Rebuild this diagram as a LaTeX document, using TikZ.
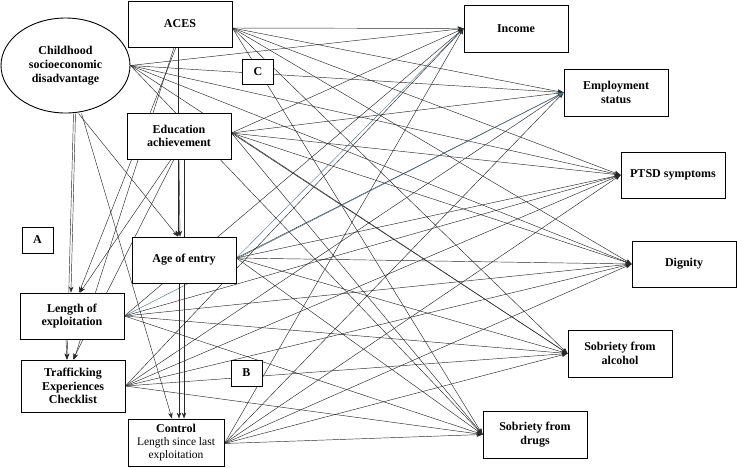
\documentclass[tikz,border=0pt]{standalone}
\usepackage{fontspec}
\setmainfont{Liberation Serif}
\usetikzlibrary{shapes.geometric,arrows.meta,backgrounds}
\definecolor{lnk}{RGB}{40,40,40}
\definecolor{blu}{RGB}{70,120,150}
\begin{document}
\begin{tikzpicture}[x=1pt,y=-1pt,
  box/.style={draw, line width=0.9pt, fill=white, minimum width=104pt, minimum height=46pt,
    inner sep=1pt, align=center, font=\fontsize{12}{13.5}\selectfont\bfseries},
  lbl/.style={draw, line width=0.9pt, fill=white, minimum width=31pt, minimum height=26pt,
    inner sep=0pt, font=\fontsize{12}{13.5}\selectfont\bfseries},
  arr/.style={-{Stealth[length=6pt,width=4.5pt]}, line width=0.45pt, draw=lnk},
  barr/.style={arr, draw=blu}
]
\useasboundingbox (0,0) rectangle (737,467);

% predictors
\node[draw, ellipse, line width=0.9pt, fill=white, minimum width=129pt, minimum height=95pt,
  inner sep=0pt, align=center, font=\fontsize{12}{14}\selectfont\bfseries]
  (child) at (65.5,65.5) {Childhood\\socioeconomic\\disadvantage};
\node[box] (aces) at (180,24) {ACES};
\node[box] (edu) at (179,136) {Education\\achievement};
\node[box] (age) at (184,260) {Age of entry};
\node[box] (len) at (72,316) {Length of\\exploitation};
\node[box, minimum height=52pt] (traf) at (73,386) {Trafficking\\Experiences\\Checklist};
\node[box, minimum width=96pt, minimum height=47pt, inner sep=0pt, font=\fontsize{11.5}{13}\selectfont]
  (ctrl) at (176,442.5) {\raisebox{0pt}[\height][0pt]{}\textbf{\fontsize{12}{13}\selectfont Control}\\Length since last\\exploitation};

% labels
\node[lbl] (la) at (37.5,240) {A};
\node[lbl, minimum height=25pt] (lc) at (258,72) {C};
\node[lbl] (lb) at (246.5,373) {B};

% outcomes
\node[box, minimum height=47pt] (income) at (516,28.5) {Income};
\node[box, minimum height=47pt] (emp) at (616,92.5) {Employment\\status};
\node[box] (ptsd) at (673,175) {PTSD symptoms};
\node[box] (dig) at (684,264) {Dignity};
\node[box, minimum height=47pt] (alc) at (620,353.5) {Sobriety from\\alcohol};
\node[box, minimum height=47pt] (drugs) at (535,434.5) {Sobriety from\\drugs};

\begin{pgfonlayer}{background}
% paths to outcomes
\foreach \t in {income, emp, ptsd, dig, alc, drugs} {
  \draw[arr] (child.east) -- (\t.west);
  \draw[arr] ([yshift=-4pt]aces.east) -- (\t.west);
  \draw[arr] ([yshift=3pt]edu.east) -- (\t.west);
  \draw[arr] (traf.east) -- (\t.west);
  \draw[arr] ([yshift=-1pt]ctrl.east) -- (\t.west);
}
\foreach \t in {emp, ptsd, dig, alc, drugs}
  \draw[arr] ([yshift=2pt]age.east) -- (\t.west);
\draw[barr] ([yshift=2pt]age.east) -- (income.west);
\foreach \t in {income, ptsd, dig, alc, drugs}
  \draw[arr] (len.east) -- (\t.west);
\draw[barr] (len.east) -- (emp.west);

% paths among predictors
\draw[arr] ([xshift=10pt]child.south) -- ([xshift=-1pt]len.north);
\draw[arr] ([xshift=8pt]child.south) -- ([xshift=-6pt]traf.north);
\draw[arr] ([xshift=13pt]child.south) -- ([xshift=-6pt]age.north);
\draw[arr] ([xshift=16pt]child.south) -- ([xshift=-4pt]ctrl.north);
\draw[arr] ([xshift=-2pt]aces.south) -- ([xshift=-6pt]age.north);
\draw[arr] ([xshift=-4pt]aces.south) -- ([xshift=7pt]len.north);
\draw[arr] ([xshift=-6pt]aces.south) -- ([xshift=1pt]traf.north);
\draw[arr] (edu.south) -- ([xshift=-4pt]age.north);
\draw[arr] ([xshift=5pt]edu.south) -- ([xshift=8pt]ctrl.north);
\draw[arr] ([xshift=-8pt]edu.south) -- ([xshift=8pt]len.north);
\draw[arr] ([xshift=-5pt]edu.south) -- ([xshift=0pt]traf.north);
\draw[arr] ([xshift=-5pt]age.south) -- ([xshift=3pt]ctrl.north);
\draw[arr] ([xshift=-6pt]len.south) -- ([xshift=-6pt]traf.north);
\end{pgfonlayer}
\end{tikzpicture}
\end{document}
